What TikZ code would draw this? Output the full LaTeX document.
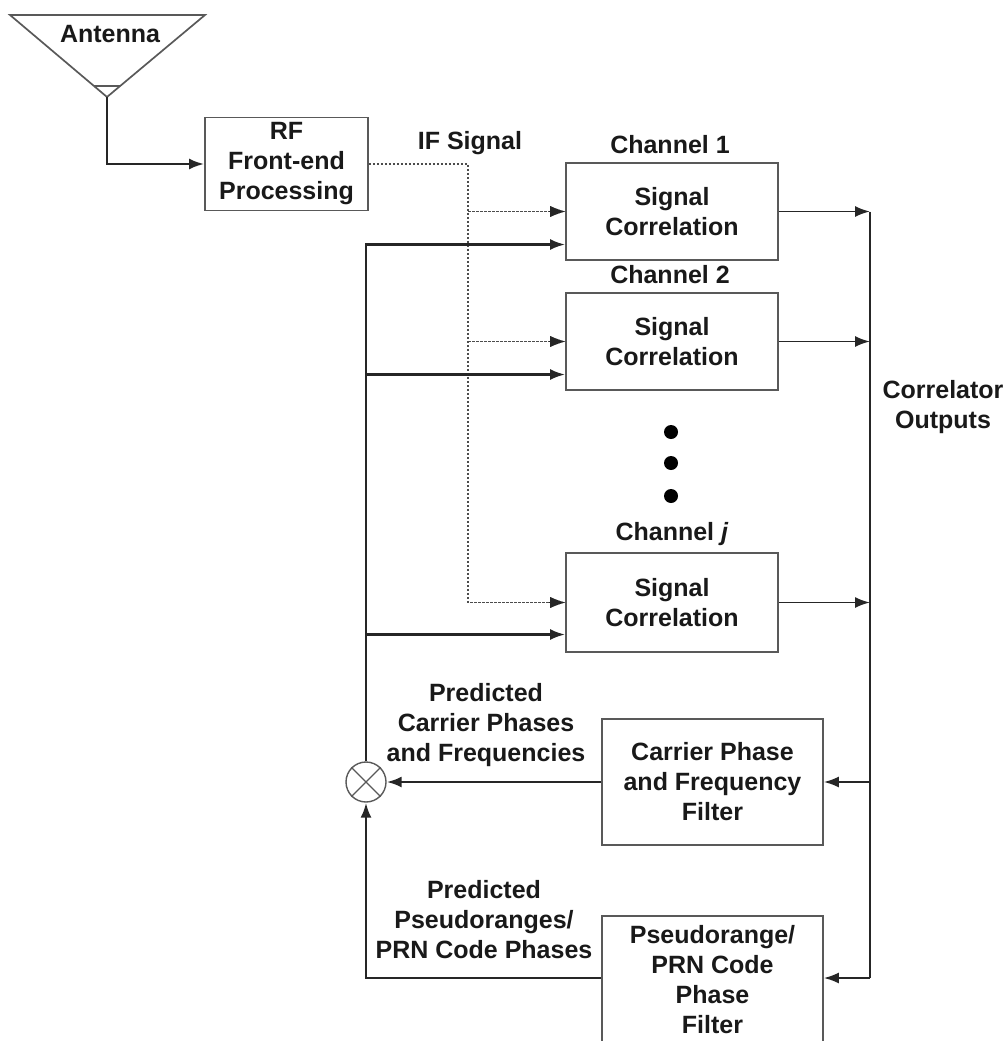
\documentclass[tikz,border=0pt]{standalone}
\usepackage{fontspec}
\setmainfont{Liberation Sans}
\usetikzlibrary{arrows.meta,calc}
\begin{document}
\begin{tikzpicture}[x=1pt,y=-1pt,
  txt/.style={font=\bfseries\fontsize{25}{30}\selectfont, text=black!90},
  box/.style={txt, draw=black!65, line width=1.7pt, fill=white, align=center, inner sep=0pt},
  lbl/.style={txt, align=center, inner sep=0pt},
  tip/.style={-{Latex[length=15pt,width=11pt]}},
  sig/.style={line width=2.5pt, black!85, tip},
  outl/.style={line width=1.9pt, black!85, tip},
  ifl/.style={line width=1.6pt, black!70, dash pattern=on 2.5pt off 1.5pt},
  dotn/.style={circle, fill=black, inner sep=0pt, minimum size=14pt}
]
\useasboundingbox (0,0) rectangle (1008,1041);
\clip (0,0) rectangle (1008,1041);

% antenna
\draw[line width=1.7pt, draw=black!65] (10,15) -- (205,15) -- (107,97) -- cycle;
\draw[line width=1.4pt, draw=black!65] (94,86) -- (120,86);
\node[lbl] (ant) at (110,34) {Antenna};
\coordinate (apex) at (107,97);

% boxes
\node[box, minimum width=163pt, minimum height=93pt] (rf) at (286.5,164) {RF\\Front-end\\Processing};
\node[box, minimum width=212pt, minimum height=97pt] (ch1) at (672,211.5) {Signal\\Correlation};
\node[box, minimum width=212pt, minimum height=97pt] (ch2) at (672,341.5) {Signal\\Correlation};
\node[box, minimum width=212pt, minimum height=99pt] (chj) at (672,602.5) {Signal\\Correlation};
\node[box, minimum width=221pt, minimum height=126pt] (cf) at (712.5,782) {Carrier Phase\\and Frequency\\Filter};
\node[box, minimum width=221pt, minimum height=128pt] (pf) at (712.5,980) {Pseudorange/\\PRN Code\\Phase\\Filter};

% labels
\node[lbl] (l1) at (670,145) {Channel 1};
\node[lbl] (l2) at (670,275) {Channel 2};
\node[lbl] (lj) at (672,534) {Channel \textit{j}};
\node[lbl] (ifs) at (470,143) {IF Signal};
\node[lbl] (co) at (943,407) {Correlator\\Outputs};
\node[lbl] (pc) at (486,725) {Predicted\\Carrier Phases\\and Frequencies};
\node[lbl] (pp) at (484,920) {Predicted\\Pseudoranges/\\PRN Code Phases};

% dots
\node[dotn] (d1) at (671,432) {};
\node[dotn] (d2) at (671,463) {};
\node[dotn] (d3) at (671,496) {};

% mixer
\node[circle, draw=black!65, line width=1.4pt, minimum size=40pt, inner sep=0pt] (mix) at (366,782) {};
\draw[line width=1.1pt, black!65] (mix.north west) -- (mix.south east);
\draw[line width=1.1pt, black!65] (mix.north east) -- (mix.south west);

% antenna to RF
\draw[sig] (apex) |- (rf.west);

% IF signal (dotted)
\coordinate (ifx) at (468,164);
\draw[ifl] (rf.east) -- (ifx) -- (ifx |- chj.west) -- ([xshift=-13pt]chj.west);
\draw[ifl] (ifx |- ch1.west) -- ([xshift=-13pt]ch1.west);
\draw[ifl] (ifx |- ch2.west) -- ([xshift=-13pt]ch2.west);
\draw[outl, line width=0.1pt] ([xshift=-16pt]ch1.west) -- (ch1.west);
\draw[outl, line width=0.1pt] ([xshift=-16pt]ch2.west) -- (ch2.west);
\draw[outl, line width=0.1pt] ([xshift=-16pt]chj.west) -- (chj.west);

% feedback to channels
\coordinate (in1) at ($(ch1.west)+(0,33)$);
\coordinate (in2) at ($(ch2.west)+(0,33)$);
\coordinate (inj) at ($(chj.west)+(0,32)$);
\draw[sig] (mix.north) |- (in1);
\draw[sig] (mix.north |- in2) -- (in2);
\draw[sig] (mix.north |- inj) -- (inj);

% correlator outputs bus
\coordinate (bus) at (870,211.5);
\coordinate (busb) at (870,978);
\draw[line width=1.9pt, black!85] (bus) -- (busb);
\draw[outl] (ch1.east) -- (ch1.east -| bus);
\draw[outl] (ch2.east) -- (ch2.east -| bus);
\draw[outl] (chj.east) -- (chj.east -| bus);
\draw[outl] (bus |- cf.east) -- (cf.east);
\draw[outl] (busb) -- (busb -| pf.east);

% filters to mixer
\draw[sig] (cf.west) -- (mix.east);
\draw[sig] (busb -| pf.west) -| (mix.south);
\end{tikzpicture}
\end{document}
